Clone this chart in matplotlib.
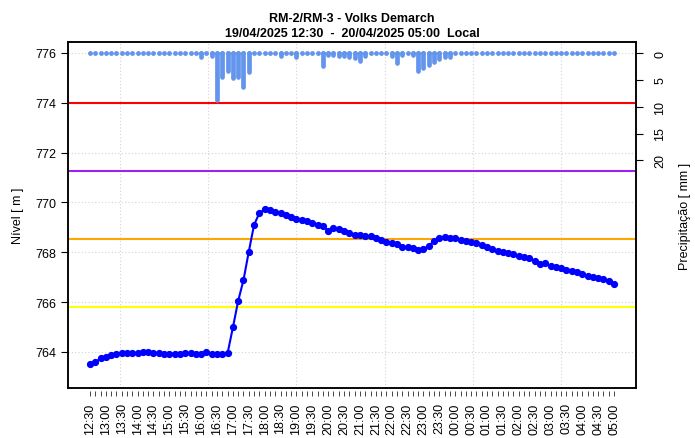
import numpy as np
import pandas as pd
import matplotlib
matplotlib.use("Agg")
import matplotlib.pyplot as plt
from datetime import datetime, timedelta

plt.rcParams['font.family'] = ['Liberation Sans', 'DejaVu Sans']

# ---- data ----
start_time = datetime(2025, 4, 19, 12, 30)
end_time = datetime(2025, 4, 20, 5, 0)
times = pd.date_range(start_time, end_time, freq="10min").to_pydatetime()

level = [763.51, 763.58, 763.74, 763.80, 763.88, 763.93, 763.95, 763.95, 763.96, 763.96,
         763.98, 763.98, 763.96, 763.95, 763.92, 763.92, 763.93, 763.93, 763.95, 763.95,
         763.90, 763.90, 763.99, 763.92, 763.92, 763.92, 763.95, 764.98, 766.05, 766.88,
         768.02, 769.10, 769.57, 769.73, 769.69, 769.63, 769.56, 769.49, 769.43, 769.33,
         769.29, 769.24, 769.17, 769.10, 769.06, 768.86, 768.96, 768.93, 768.84, 768.76,
         768.69, 768.68, 768.66, 768.64, 768.57, 768.49, 768.42, 768.36, 768.33, 768.22,
         768.20, 768.17, 768.10, 768.13, 768.26, 768.44, 768.57, 768.60, 768.58, 768.57,
         768.49, 768.44, 768.40, 768.36, 768.29, 768.22, 768.13, 768.06, 768.02, 767.97,
         767.93, 767.86, 767.80, 767.76, 767.63, 767.53, 767.55, 767.46, 767.42, 767.37,
         767.29, 767.23, 767.19, 767.12, 767.06, 767.02, 766.96, 766.91, 766.86, 766.72]

rain = [0, 0, 0, 0, 0, 0, 0, 0, 0, 0,
        0, 0, 0, 0, 0, 0, 0, 0, 0, 0,
        0, 0.8, 0, 0.6, 8.7, 4.5, 3.3, 4.6, 4.4, 6.4,
        3.6, 0, 0, 0, 0, 0, 0.6, 0, 0, 0.8,
        0, 0, 0, 0, 2.4, 0.3, 0.4, 0.5, 0.5, 0.8,
        0.9, 1.4, 0.5, 0, 0, 0, 0, 0.5, 1.8, 0.3,
        0, 0.3, 3.3, 2.7, 2.3, 1.7, 1.2, 0.8, 0.7, 0,
        0, 0, 0, 0, 0, 0, 0, 0, 0, 0,
        0, 0, 0, 0, 0, 0, 0, 0, 0, 0,
        0, 0, 0, 0, 0, 0, 0, 0, 0, 0]

thresholds = [774.0, 771.27, 768.53, 765.8]
threshold_colors = ['#FF0000', '#A020F0', '#FFA500', '#FFFF00']

left_ticks = [764, 766, 768, 770, 772, 774, 776]
right_ticks = [0, 5, 10, 15, 20]

title1 = "RM-2/RM-3 - Volks Demarch"
title2 = "19/04/2025 12:30  -  20/04/2025 05:00  Local"
ylabel_left = "Nível [ m ]"
ylabel_right = "Precipitação [ mm ]"

# ---- figure ----
W, H = 695, 439
fig = plt.figure(figsize=(W / 100, H / 100), dpi=100)
L, R, T, B = 68, 636, 43, 389
ax = fig.add_axes([L / W, 1 - B / H, (R - L) / W, (B - T) / H])
ax2 = ax.twinx()

fs = 9.0

pad = timedelta(minutes=41.5)
ax.set_xlim(times[0] - pad, times[-1] + pad)
ax.set_ylim(762.55, 776.44)
ax2.set_ylim(62.4, -2.05)

# grid (R-style: multiples of 10000 s in epoch, UTC-3 local)
utc_off = timedelta(hours=3)
epoch = datetime(1970, 1, 1)
s0 = (times[0] - pad + utc_off - epoch).total_seconds()
s1 = (times[-1] + pad + utc_off - epoch).total_seconds()
g = np.arange(np.ceil(s0 / 10000) * 10000, s1, 10000)
for sec in g:
    gx = epoch + timedelta(seconds=float(sec)) - utc_off
    ax.axvline(gx, color='#D3D3D3', lw=0.8, ls=(0, (1, 2)), zorder=0)
for yv in left_ticks:
    ax.axhline(yv, color='#D3D3D3', lw=0.8, ls=(0, (1, 2)), zorder=0)

# threshold lines
for yv, c in zip(thresholds, threshold_colors):
    ax.axhline(yv, color=c, lw=1.5, zorder=1)

# level
ax.plot(times, level, '-o', color='#0000FF', lw=1.5, ms=4.2, zorder=3)

# rain
lc = ax2.vlines(times, 0, rain, color='#6495ED', lw=3.4, zorder=2)
lc.set_capstyle('round')
ax2.plot(times, np.zeros(len(times)), 'o', color='#6495ED', ms=3.5,
         mec='none', ls='none', zorder=2)

for a in (ax, ax2):
    for sp in a.spines.values():
        sp.set_linewidth(1.1)
        sp.set_color('black')

ax.set_yticks(left_ticks)
ax.set_yticklabels([str(v) for v in left_ticks])
ax.tick_params(axis='y', direction='out', length=5, width=0.8, pad=3.5,
               labelsize=fs, colors='black')
ax2.set_yticks(right_ticks)
ax2.set_yticklabels([str(v) for v in right_ticks], rotation=90, va='center')
ax2.tick_params(axis='y', direction='out', length=5, width=0.8, pad=8,
                labelsize=fs)

# x axis: hide primary ticks, use offset secondary axis
ax.set_xticks([])
secx = ax.secondary_xaxis(-2.5 / (B - T))
secx.spines['bottom'].set_visible(False)
secx.set_xticks(times)
labels = [t.strftime('%H:%M') if i % 3 == 0 else '' for i, t in enumerate(times)]
secx.set_xticklabels(labels, rotation=90)
secx.tick_params(axis='x', direction='out', length=3.5, width=0.7, pad=5,
                 labelsize=fs, color='#444444')

cx = (L + R) / 2 / W
fig.text(cx, 1 - 22 / H, title1, ha='center', va='baseline',
         fontsize=9, fontweight='bold')
fig.text(cx, 1 - 37 / H, title2, ha='center', va='baseline',
         fontsize=9, fontweight='bold')
cy = 1 - (T + B) / 2 / H
fig.text(18 / W, cy, ylabel_left, rotation=90, ha='center', va='center',
         fontsize=fs)
fig.text(685 / W, cy, ylabel_right, rotation=90, ha='center', va='center',
         fontsize=fs)

fig.savefig("out.png", dpi=100)
